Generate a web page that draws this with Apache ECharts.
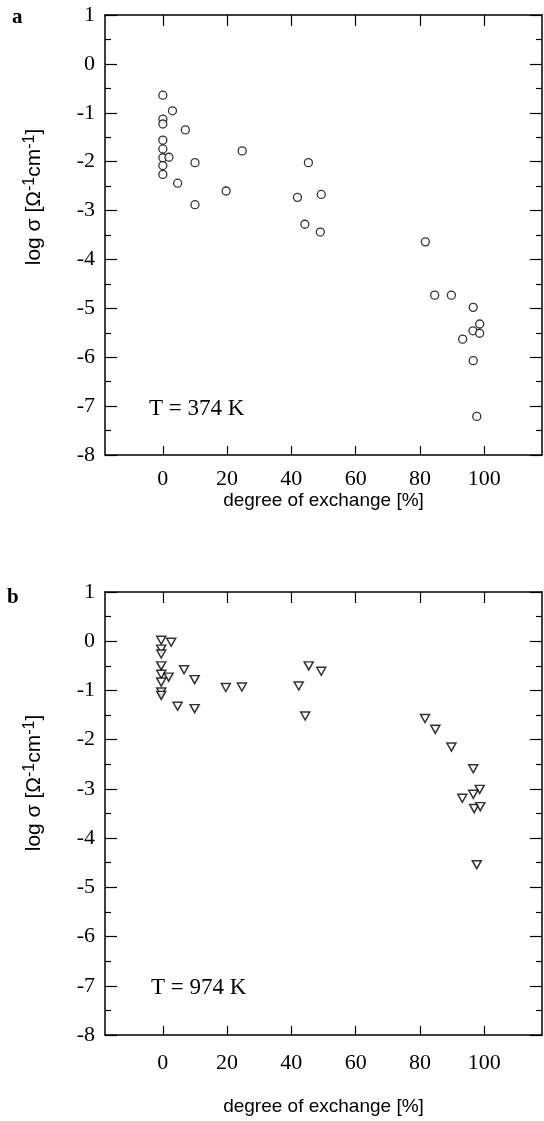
<!DOCTYPE html>
<html>
<head>
<meta charset="utf-8">
<script src="https://cdn.jsdelivr.net/npm/echarts@6/dist/echarts.min.js"></script>
<style>
html,body{margin:0;padding:0;background:#fff;}
#chart{width:544px;height:1121px;}
</style>
</head>
<body>
<div id="chart"></div>
<script>
// Panel a: T = 374 K (circles) — [degree of exchange %, log sigma]
const panelA_x = [0, 3.0, 0, 0, 7.0, 0, 0, 0, 1.9, 0, 0, 10.0, 4.6, 19.7, 10.0, 24.7,
  41.9, 45.3, 49.3, 44.2, 49.0, 81.7, 84.6, 89.8, 96.6, 98.6, 96.5, 98.6, 93.3, 96.6, 97.7];
const panelA_y = [-0.64, -0.96, -1.13, -1.23, -1.35, -1.56, -1.74, -1.92, -1.91, -2.08, -2.26, -2.02, -2.44, -2.60, -2.88, -1.78,
  -2.73, -2.02, -2.67, -3.28, -3.44, -3.64, -4.73, -4.73, -4.98, -5.32, -5.46, -5.51, -5.63, -6.07, -7.21];

// Panel b: T = 974 K (triangles)
const panelB_x = [-0.5, 2.6, -0.5, -0.5, -0.5, 6.6, -0.5, 1.8, -0.5, 9.9, -0.5, -0.5, 4.6, 9.9,
  19.6, 24.6, 42.3, 45.4, 49.3, 44.3, 81.6, 84.8, 89.8, 96.6, 98.6, 96.6, 93.2, 96.9, 98.8, 97.7];
const panelB_y = [0.02, -0.02, -0.16, -0.26, -0.50, -0.58, -0.67, -0.73, -0.83, -0.78, -1.03, -1.10, -1.32, -1.37,
  -0.94, -0.93, -0.91, -0.50, -0.61, -1.52, -1.57, -1.79, -2.15, -2.59, -3.01, -3.11, -3.19, -3.40, -3.36, -4.54];

const xTicks = [0, 20, 40, 60, 80, 100];
const xName = 'degree of exchange [%]';
const yNameRich = '{n|log σ [Ω}{s|-1}{n|cm}{s|-1}{n|]}';
const panelLabels = ['a', 'b'];
const tempLabels = ['T = 374 K', 'T = 974 K'];

const serif = '"Liberation Serif", "DejaVu Serif", serif';
const sans = '"Liberation Sans", Arial, sans-serif';
const black = '#000';

function zip(xs, ys) { return xs.map((x, i) => [x, ys[i]]); }

const grids = [
  {left: 105, top: 15, width: 437, height: 440},
  {left: 105, top: 592, width: 437, height: 443}
];

const xAxes = [], yAxes = [];
grids.forEach((g, i) => {
  const common = {
    type: 'value', gridIndex: i, min: -18, max: 118,
    splitLine: {show: false},
    axisLine: {show: true, onZero: false, lineStyle: {color: black, width: 1.5}}
  };
  xAxes.push(Object.assign({}, common, {
    position: 'bottom',
    name: xName, nameLocation: 'middle', nameGap: i === 0 ? 30 : 62,
    nameTextStyle: {fontFamily: sans, fontSize: 19, color: black},
    axisTick: {show: true, inside: true, length: 9, customValues: xTicks, lineStyle: {color: black, width: 1.2}},
    axisLabel: {show: true, customValues: xTicks, margin: i === 0 ? 13 : 17, fontFamily: serif, fontSize: 22, color: black}
  }));
  xAxes.push(Object.assign({}, common, {
    position: 'top',
    axisTick: {show: true, inside: true, length: 11, customValues: xTicks, lineStyle: {color: black, width: 1.2}},
    axisLabel: {show: false}
  }));
  const ycommon = {
    type: 'value', gridIndex: i, min: -8, max: 1, interval: 1,
    splitLine: {show: false}, minorSplitLine: {show: false},
    axisLine: {show: true, onZero: false, lineStyle: {color: black, width: 1.5}},
    axisTick: {show: true, inside: true, length: 12, lineStyle: {color: black, width: 1.2}},
    minorTick: {show: true, splitNumber: 2, length: 6, lineStyle: {color: black, width: 1.2}}
  };
  yAxes.push(Object.assign({}, ycommon, {
    position: 'left',
    axisLabel: {show: true, margin: 10, fontFamily: serif, fontSize: 22, color: black}
  }));
  yAxes.push(Object.assign({}, ycommon, {
    position: 'right',
    axisLabel: {show: false}
  }));
});

const yNameRichStyles = {
  n: {fontFamily: sans, fontSize: 21, color: black, lineHeight: 24},
  s: {fontFamily: sans, fontSize: 16, color: black, lineHeight: 16, verticalAlign: 'top'}
};

const option = {
  backgroundColor: '#fff',
  animation: false,
  grid: grids,
  xAxis: xAxes,
  yAxis: yAxes,
  series: [
    {
      type: 'scatter', xAxisIndex: 0, yAxisIndex: 0,
      data: zip(panelA_x, panelA_y),
      symbol: 'circle', symbolSize: 8,
      itemStyle: {color: '#fff', borderColor: black, borderWidth: 1.3}
    },
    {
      type: 'scatter', xAxisIndex: 2, yAxisIndex: 2,
      data: zip(panelB_x, panelB_y),
      symbol: 'triangle', symbolRotate: 180, symbolSize: [9, 8],
      itemStyle: {color: '#fff', borderColor: black, borderWidth: 1.5}
    }
  ],
  graphic: [
    {type: 'text', left: 12, top: 7, style: {text: panelLabels[0], font: 'bold 21px ' + serif, fill: black}},
    {type: 'text', left: 7, top: 587, style: {text: panelLabels[1], font: 'bold 21px ' + serif, fill: black}},
    {type: 'text', left: 149, top: 397, style: {text: tempLabels[0], font: '23px ' + serif, fill: black}},
    {type: 'text', left: 151, top: 976, style: {text: tempLabels[1], font: '23px ' + serif, fill: black}},
    {type: 'text', x: 34, y: 197, rotation: Math.PI / 2,
      style: {text: yNameRich, rich: yNameRichStyles, align: 'center', verticalAlign: 'middle'}},
    {type: 'text', x: 34, y: 783, rotation: Math.PI / 2,
      style: {text: yNameRich, rich: yNameRichStyles, align: 'center', verticalAlign: 'middle'}}
  ]
};

const chart = echarts.init(document.getElementById('chart'), null, {renderer: 'canvas'});
chart.setOption(option);
</script>
</body>
</html>
